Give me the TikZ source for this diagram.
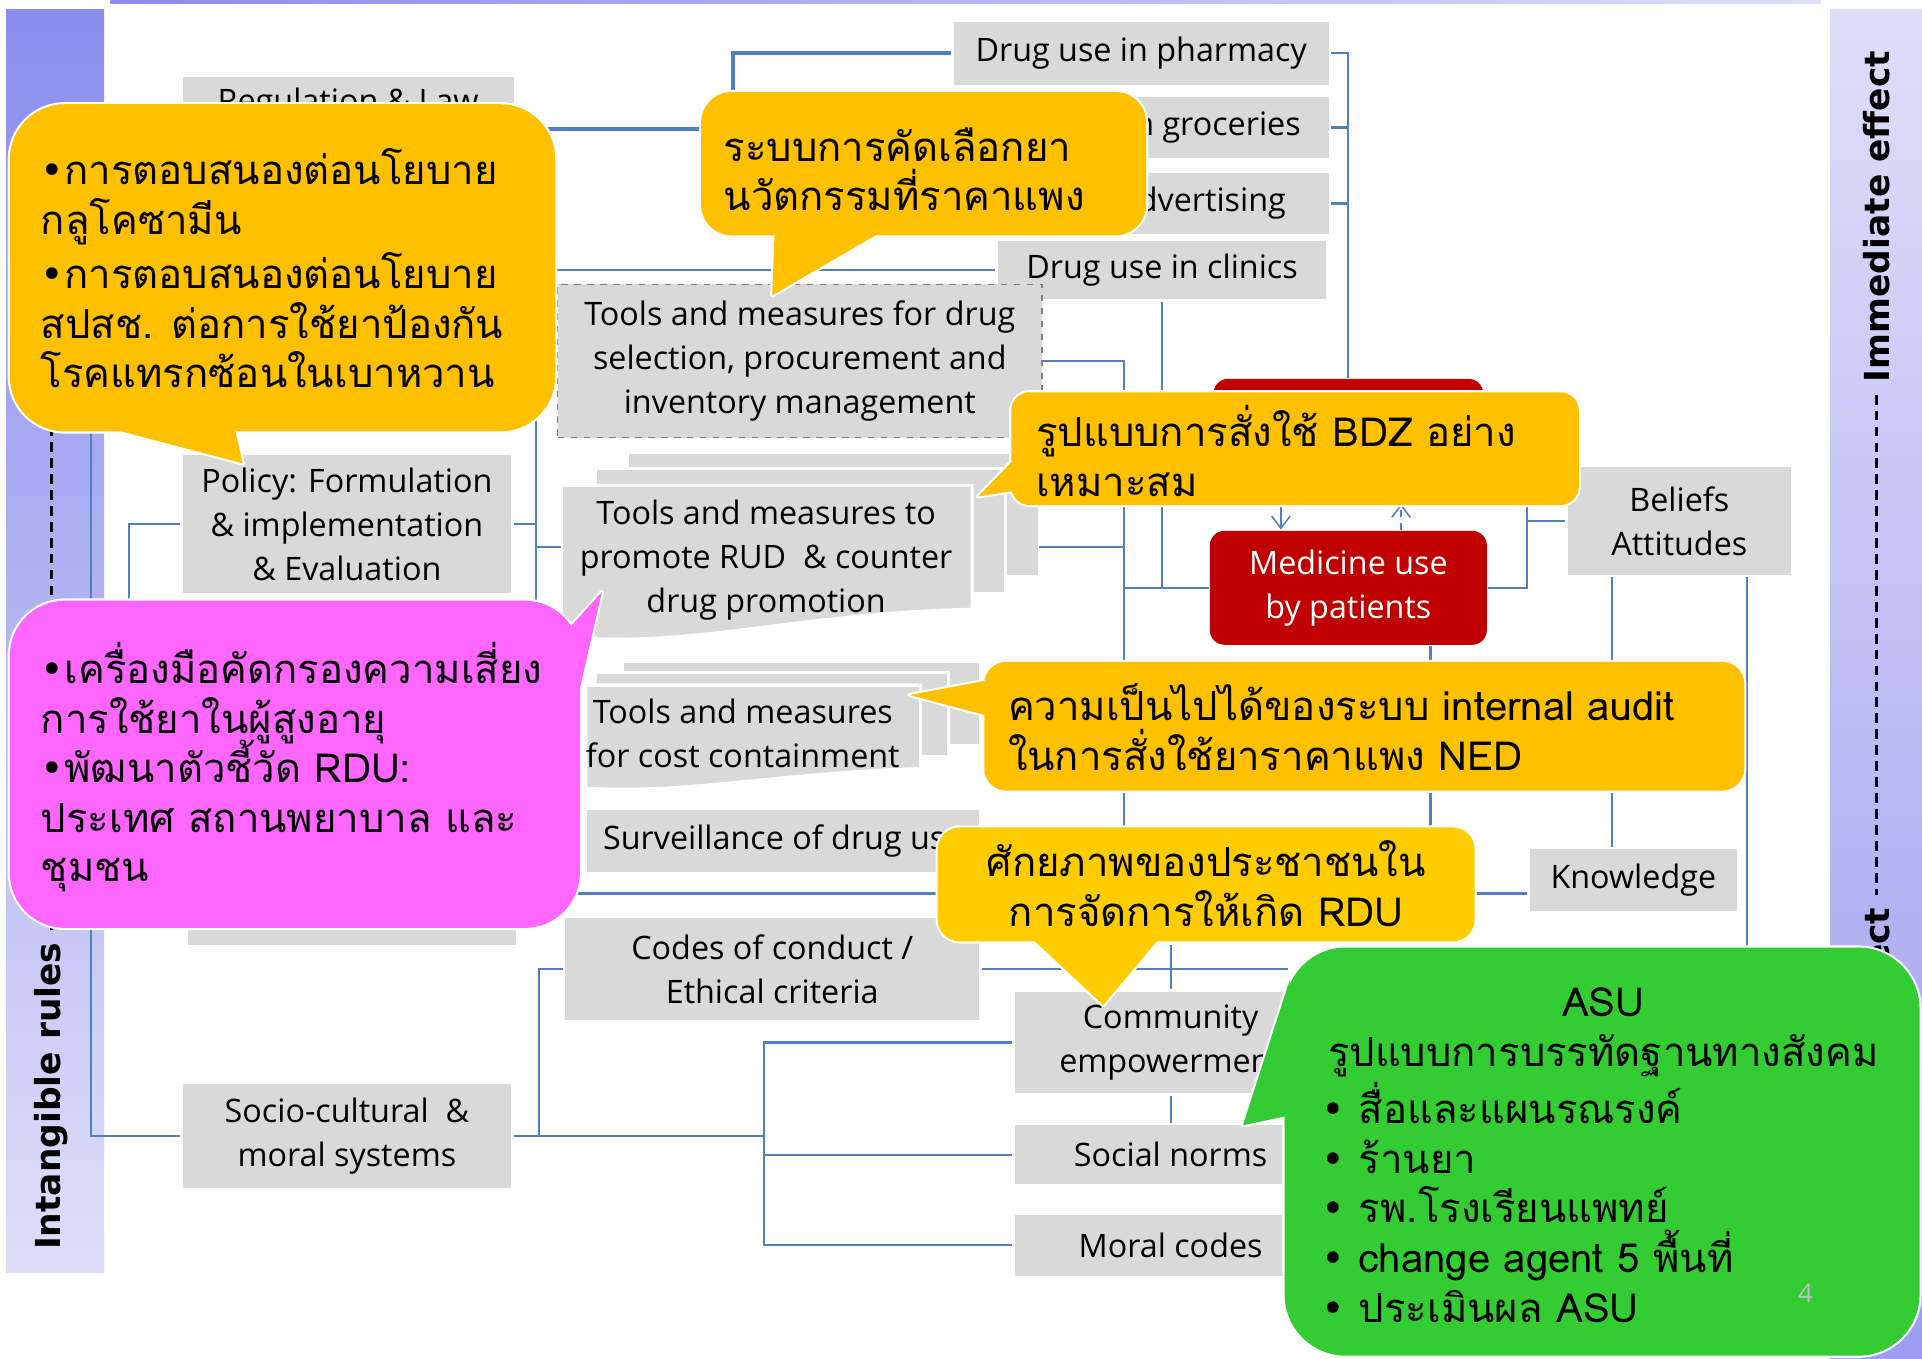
\documentclass[tikz,border=0pt]{standalone}
\usepackage{fontspec}
\setmainfont{Open Sans}
\newfontfamily\thaifont[Script=Thai]{Loma}
\newfontfamily\symfont{DejaVu Sans}
\usetikzlibrary{arrows.meta}
\definecolor{boxgray}{HTML}{D9D9D9}
\definecolor{linkblue}{HTML}{4F81BD}
\definecolor{callorange}{HTML}{FFC000}
\definecolor{callyellow}{HTML}{FFCC00}
\definecolor{callpink}{HTML}{FF66FF}
\definecolor{callgreen}{HTML}{33CC33}
\definecolor{patred}{HTML}{C00000}
\definecolor{bardark}{RGB}{140,140,238}
\definecolor{barlight}{RGB}{222,222,249}
\newcommand\bul{{\symfont •}}
\newcommand\thaisize{\thaifont\fontsize{18.6}{23}\selectfont\lineskiplimit=-20pt\relax}
\newcommand\bubble[3]{%
  \path[bubbleline,fill=#1] #2; \path[bubbleline,fill=#1] #3;
  \fill[#1] #2; \fill[#1] #3;}
\begin{document}
\begin{tikzpicture}
[x=0.2mm,y=-0.2mm,
  box/.style={fill=boxgray,draw=white,line width=0.4mm,align=center,inner sep=0pt,
    font=\fontsize{15}{20.4}\selectfont},
  redbox/.style={box,fill=patred,draw=none,rounded corners=2.4mm,text=white},
  sheet/.style={fill=boxgray,draw=white,line width=0.5mm},
  conn/.style={draw=linkblue,line width=0.35mm},
  bubbleline/.style={draw=white,line width=0.7mm,line join=round},
  thaitext/.style={align=left,inner sep=0pt,font=\thaisize},
  bartext/.style={font=\symfont\bfseries\fontsize{16}{19}\selectfont,rotate=90,inner sep=0pt},
  dashline/.style={dash pattern=on 1.6mm off 1mm,line width=0.5mm}]
\fill[white] (0,0) rectangle (1568,1108);
\useasboundingbox (0,0) rectangle (1568,1108);
\shade[top color=bardark,bottom color=barlight] (5,8) rectangle (85,1038);
\shade[top color=barlight,bottom color=bardark!85] (1493,8) rectangle (1568,1108);
\shade[left color=bardark,right color=barlight] (90,0) rectangle (1485,3);
\node[bartext,anchor=west] (intang) at (42,1020) {Intangible rules};
\node[bartext,anchor=west] (immed) at (1531,312) {Immediate effect};
\node[bartext,anchor=east] (longterm) at (1531,740) {effect};
\draw[dashline] ([yshift=2mm]intang.east) -- ++(0,-650);
\draw[dashline] ([yshift=-2mm]immed.west) -- ([yshift=2mm]longterm.east);

\node[box,minimum width=54.4mm,minimum height=17.2mm] (reg) at (284,105) {Regulation \& Law\\\strut};
\node[box,minimum width=61.6mm,minimum height=10.6mm] (pharm) at (931,43.5) {Drug use in pharmacy};
\node[box,minimum width=61.6mm,minimum height=10.4mm] (groc) at (931,104) {Drug use in groceries};
\node[box,minimum width=54.4mm,minimum height=10.4mm] (adv) at (949,166) {};
\node[box,fill=none,draw=none,anchor=east] (advtext) at (1050,166) {advertising};
\node[box,minimum width=54mm,minimum height=9.8mm] (clin) at (948,220.5) {Drug use in clinics};
\node[box,draw=gray,dashed,line width=0.25mm,minimum width=79mm,minimum height=25mm] (sel) at (652.5,294.5)
  {Tools and measures for drug\\selection, procurement and\\inventory management};
\node[box,minimum width=54mm,minimum height=23mm] (pol) at (283,427.5) {Policy: Formulation\\\& implementation\\\& Evaluation};
\node[box,minimum width=54mm,minimum height=14.4mm] (hid) at (287,736) {};
\node[box,minimum width=64.4mm,minimum height=10.4mm] (surv) at (639,686) {Surveillance of drug use};
\node[box,minimum width=68mm,minimum height=17mm] (code) at (630,790.5) {Codes of conduct /\\Ethical criteria};
\node[box,minimum width=54mm,minimum height=17.4mm] (soc) at (283,926.5) {Socio-cultural \ \&\\moral systems};
\node[box,minimum width=51.2mm,minimum height=17mm] (comm) at (955,850.5) {Community\\empowerment};
\node[box,minimum width=51.2mm,minimum height=10mm] (snorm) at (955,942) {Social norms};
\node[box,minimum width=51.2mm,minimum height=10.4mm] (moral) at (955,1016) {Moral codes};
\node[box,minimum width=36.8mm,minimum height=18mm] (bel) at (1370,425) {Beliefs\\Attitudes};
\node[box,minimum width=34.2mm,minimum height=10.4mm] (know) at (1332.5,718) {Knowledge};
\node[redbox,minimum width=44mm,minimum height=20.2mm] (presc) at (1100,359.5) {};
\node[redbox,minimum width=45.2mm,minimum height=18.6mm] (med) at (1100,479.5) {Medicine use\\by patients};

\path[sheet] (512,369) rectangle (848,470);
\path[sheet] (486,382) rectangle (820,484);
\path[sheet] (458,396) -- (793,396) -- (793,497) .. controls (650,500) and (560,530) .. (458,519) -- cycle;
\node[box,fill=none,draw=none] (rud) at (625,457) {Tools and measures to\\promote RUD \ \& counter\\drug promotion};
\path[sheet] (508,540) rectangle (800,608);
\path[sheet] (486,549) rectangle (774,617);
\path[sheet] (478,559) -- (751,559) -- (751,627) .. controls (640,630) and (560,648) .. (478,643) -- cycle;
\node[box,fill=none,draw=none] (cost) at (606,598) {Tools and measures\\for cost containment};
\coordinate (rudL) at (458,446);
\coordinate (rudR) at (848,446);
\coordinate (pj) at (598,43.5);
\coordinate (pbot) at (437,500);
\coordinate (sj) at (917,700);
\coordinate (bj) at (1246,412);
\coordinate (mj) at (623,850.5);

\draw[conn] (reg.west) -- ++(-73,0) |- (soc.west);
\draw[conn] (pol.west) -- ++(-42,0) |- (hid.west);
\draw[conn] (clin.west) -| (pbot);
\draw[conn] (pol.east) -- (pol.east -| pbot);
\draw[conn] (rudL) -- (rudL -| pbot);
\draw[conn,line width=0.6mm] (reg.east) -| (pj) -- (pharm.west);
\draw[conn] (pharm.east) -| (presc.north);
\draw[conn] (groc.east) -- (groc.east -| presc.north);
\draw[conn] (adv.east) -- (adv.east -| presc.north);
\draw[conn] (clin.south) |- (med.west);
\draw[conn] (sel.east) -| (sj);
\draw[conn] (rudR) -- (rudR -| sj);
\draw[conn] (med.west) -- (med.west -| sj);
\draw[conn] (med.east) -| (bj);
\draw[conn] (bel.west) -- (bel.west -| bj);
\draw[conn] ([xshift=13.4mm]med.south) -- ++(0,180);
\draw[conn] ([xshift=-11mm]bel.south) -- ([xshift=-11mm]bel.south |- know.north);
\draw[conn] ([xshift=11mm]bel.south) -- ++(0,320);
\draw[conn,line width=0.6mm] ([yshift=-2.2mm]know.west) -- ++(-787,0);
\draw[conn] (code.east) -- ++(250,0);
\draw[conn] (comm.north) -- ++(0,-36);
\draw[conn] (comm.south) -- (snorm.north);
\draw[conn] (soc.east) -- ++(21,0) |- (code.west);
\draw[conn] (soc.east) -| (mj) -- (comm.west);
\draw[conn] (mj) |- (moral.west);
\draw[conn] (mj |- snorm.west) -- (snorm.west);
\draw[conn,line width=0.25mm,-{Straight Barb[length=2mm,width=3mm]}] ([xshift=-11mm]presc.south) -- ([xshift=-11mm]med.north);
\draw[conn,line width=0.25mm,dashed,-{Straight Barb[length=2mm,width=3mm]}] ([xshift=8.6mm]med.north) -- ([xshift=8.6mm]presc.south);

\bubble{callorange}{[rounded corners=9mm] (8,85) rectangle (453,352)}{(84,348) -- (198,378) -- (191,348) -- cycle}
\node[thaitext,anchor=west] (policytalk) at (33,219)
  {\bul การตอบสนองต่อนโยบาย\\กลูโคซามีน\\[0.8mm]\bul การตอบสนองต่อนโยบาย\\สปสช. ต่อการใช้ยาป้องกัน\\โรคแทรกซ้อนในเบาหวาน};
\bubble{callorange}{[rounded corners=5mm] (572,75) rectangle (935,192)}{(632,188) -- (630,241) -- (721,188) -- cycle}
\node[thaitext,anchor=west] (seltalk) at (590,138) {ระบบการคัดเลือกยา\\นวัตกรรมที่ราคาแพง};
\bubble{callorange}{[rounded corners=3mm] (825,320) rectangle (1288,412)}{(830,372) -- (798,405) -- (830,400) -- cycle}
\node[thaitext,anchor=west] (bdztalk) at (845,368) {รูปแบบการสั่งใช้ BDZ อย่าง\\เหมาะสม};
\bubble{callorange}{[rounded corners=3.6mm] (803,540) rectangle (1423,645)}{(806,555) -- (742,567) -- (806,584) -- cycle}
\node[thaitext,anchor=west] (audittalk) at (822,593) {ความเป็นไปได้ของระบบ internal audit\\ในการสั่งใช้ยาราคาแพง NED};
\bubble{callyellow}{[rounded corners=3.6mm] (765,675) rectangle (1203,768)}{(839,763) -- (900,820) -- (948,763) -- cycle}
\node[thaitext,align=center] (peopletalk) at (984,721) {ศักยภาพของประชาชนใน\\การจัดการให้เกิด RDU};
\bubble{callpink}{[rounded corners=9mm] (8,490) rectangle (473,757)}{(462,515) -- (491,483) -- (470,575) -- cycle}
\node[thaitext,anchor=west] (tooltalk) at (33,626)
  {\bul เครื่องมือคัดกรองความเสี่ยง\\การใช้ยาในผู้สูงอายุ\\\bul พัฒนาตัวชี้วัด RDU:\\ประเทศ สถานพยาบาล และ\\ชุมชน};
\bubble{callgreen}{[rounded corners=10mm] (1048,773) rectangle (1566,1106)}{(1052,800) -- (1014,918) -- (1052,910) -- cycle}
\node[thaitext,align=center] (asutitle) at (1308,842) {ASU\\รูปแบบการบรรทัดฐานทางสังคม};
\node[thaitext,anchor=west] (asulist) at (1078,981)
  {\bul\ สื่อและแผนรณรงค์\\\bul\ ร้านยา\\\bul\ รพ.โรงเรียนแพทย์\\\bul\ change agent 5 พื้นที่\\\bul\ ประเมินผล ASU};
\node[font=\fontsize{12}{14}\selectfont,text=black!25] (pagenum) at (1473,1055) {4};
\end{tikzpicture}
\end{document}
